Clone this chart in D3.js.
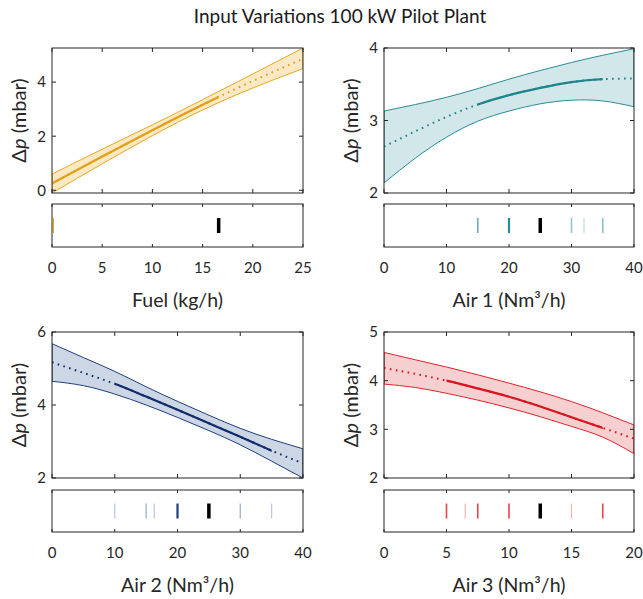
<!DOCTYPE html>
<html>
<head>
<meta charset="utf-8">
<script src="https://cdn.jsdelivr.net/npm/d3@7"></script>
<style>
  body { margin: 0; background: #fff; }
  svg { font-family: Lato, "Open Sans", sans-serif; }
</style>
</head>
<body>
<svg id="chart" width="643" height="599"></svg>
<script>
// data
const fuelX = [0, 5, 10, 15, 20, 25]
const fuelMean = [0.25, 1.25, 2.22, 3.16, 4.04, 4.86]
const fuelUpper = [0.60, 1.52, 2.42, 3.35, 4.30, 5.26]
const fuelLower = [-0.10, 0.98, 2.02, 2.97, 3.78, 4.50]
const fuelMeasured = [0]
const fuelShade = [0.9]
const fuelNominal = 16.6

const air1X = [0, 5, 10, 15, 20, 25, 30, 35, 40]
const air1Mean = [2.64, 2.85, 3.05, 3.22, 3.35, 3.45, 3.53, 3.57, 3.58]
const air1Upper = [3.13, 3.22, 3.32, 3.44, 3.57, 3.69, 3.80, 3.90, 3.99]
const air1Lower = [2.14, 2.48, 2.77, 2.99, 3.13, 3.23, 3.28, 3.27, 3.19]
const air1Measured = [15, 20, 30, 32, 35]
const air1Shade = [0.7, 1, 0.5, 0.3, 0.55]
const air1Nominal = 25

const air2X = [0, 5, 10, 15, 20, 25, 30, 35, 40]
const air2Mean = [5.17, 4.88, 4.58, 4.23, 3.87, 3.50, 3.13, 2.75, 2.40]
const air2Upper = [5.68, 5.30, 4.92, 4.50, 4.10, 3.72, 3.36, 3.06, 2.80]
const air2Lower = [4.65, 4.53, 4.30, 4.00, 3.66, 3.30, 2.91, 2.46, 2.00]
const air2Measured = [10, 15, 16.3, 20, 30, 35]
const air2Shade = [0.3, 0.45, 0.3, 1, 0.45, 0.3]
const air2Nominal = 25

const air3X = [0, 2.5, 5, 7.5, 10, 12.5, 15, 17.5, 20]
const air3Mean = [4.26, 4.14, 4.00, 3.84, 3.67, 3.47, 3.25, 3.03, 2.81]
const air3Upper = [4.58, 4.43, 4.28, 4.12, 3.95, 3.77, 3.57, 3.34, 3.09]
const air3Lower = [3.93, 3.86, 3.74, 3.60, 3.44, 3.26, 3.06, 2.84, 2.50]
const air3Measured = [5, 6.5, 7.5, 10, 15, 17.5]
const air3Shade = [0.85, 0.35, 0.85, 0.85, 0.35, 0.85]
const air3Nominal = 12.5

const panels = [
  {x: fuelX, mean: fuelMean, up: fuelUpper, lo: fuelLower, meas: fuelMeasured, shade: fuelShade, nom: fuelNominal,
   solid: [0, 16.6], xdom: [0, 25], xticks: [0, 5, 10, 15, 20, 25], ydom: [-0.1, 5.26], yticks: [0, 2, 4],
   line: "#e2a017", edge: "#e8a91c", fill: "#fbe8c4", tick: "#b8860b", xlabel: "Fuel (kg/h)",
   left: 52, right: 303, top: 48, bottom: 193, stripTop: 204, stripBottom: 247},
  {x: air1X, mean: air1Mean, up: air1Upper, lo: air1Lower, meas: air1Measured, shade: air1Shade, nom: air1Nominal,
   solid: [15, 35], xdom: [0, 40], xticks: [0, 10, 20, 30, 40], ydom: [2, 4], yticks: [2, 3, 4],
   line: "#1f848e", edge: "#2a8c96", fill: "#d2e7e9", tick: "#2a8c96", xlabel: "Air 1 (Nm³/h)",
   left: 384, right: 634, top: 48, bottom: 193, stripTop: 204, stripBottom: 247},
  {x: air2X, mean: air2Mean, up: air2Upper, lo: air2Lower, meas: air2Measured, shade: air2Shade, nom: air2Nominal,
   solid: [10, 35], xdom: [0, 40], xticks: [0, 10, 20, 30, 40], ydom: [2, 6], yticks: [2, 4, 6],
   line: "#0d2d6c", edge: "#1d3f7f", fill: "#cdd6e5", tick: "#1d3f7f", xlabel: "Air 2 (Nm³/h)",
   left: 52, right: 303, top: 332, bottom: 478, stripTop: 490, stripBottom: 532},
  {x: air3X, mean: air3Mean, up: air3Upper, lo: air3Lower, meas: air3Measured, shade: air3Shade, nom: air3Nominal,
   solid: [5, 17.5], xdom: [0, 20], xticks: [0, 5, 10, 15, 20], ydom: [2, 5], yticks: [2, 3, 4, 5],
   line: "#d9141c", edge: "#e0242c", fill: "#f6cfd1", tick: "#e0242c", xlabel: "Air 3 (Nm³/h)",
   left: 384, right: 634, top: 332, bottom: 478, stripTop: 490, stripBottom: 532}
]

const svg = d3.select("#chart")
const axisColor = "#262626"

svg.append("text")
  .attr("x", 340).attr("y", 23)
  .attr("text-anchor", "middle")
  .attr("font-size", 19)
  .attr("fill", "#1a1a1a")
  .text("Input Variations 100 kW Pilot Plant")

panels.forEach((p, i) => {
  const x = d3.scaleLinear().domain(p.xdom).range([p.left, p.right])
  const y = d3.scaleLinear().domain(p.ydom).range([p.bottom, p.top])
  const pts = p.x.map((v, k) => ({x: v, m: p.mean[k], u: p.up[k], l: p.lo[k]}))

  const g = svg.append("g")
  const clipAll = "clip" + i
  g.append("clipPath").attr("id", clipAll)
    .append("rect").attr("x", p.left).attr("y", p.top)
    .attr("width", p.right - p.left).attr("height", p.bottom - p.top)
  const clipSolid = "clipS" + i
  g.append("clipPath").attr("id", clipSolid)
    .append("rect").attr("x", x(p.solid[0])).attr("y", p.top)
    .attr("width", x(p.solid[1]) - x(p.solid[0])).attr("height", p.bottom - p.top)

  const area = d3.area().x(d => x(d.x)).y0(d => y(d.l)).y1(d => y(d.u)).curve(d3.curveNatural)
  const line = d3.line().x(d => x(d.x)).y(d => y(d.m)).curve(d3.curveNatural)
  const upLine = d3.line().x(d => x(d.x)).y(d => y(d.u)).curve(d3.curveNatural)
  const loLine = d3.line().x(d => x(d.x)).y(d => y(d.l)).curve(d3.curveNatural)

  const plot = g.append("g").attr("clip-path", `url(#${clipAll})`)
  plot.append("path").datum(pts).attr("d", area).attr("fill", p.fill).attr("stroke", "none")
  plot.append("path").datum(pts).attr("d", upLine).attr("fill", "none").attr("stroke", p.edge).attr("stroke-width", 1)
  plot.append("path").datum(pts).attr("d", loLine).attr("fill", "none").attr("stroke", p.edge).attr("stroke-width", 1)
  // band ends
  ;[pts[0], pts[pts.length - 1]].forEach(d => {
    plot.append("line").attr("x1", x(d.x)).attr("x2", x(d.x))
      .attr("y1", y(d.l)).attr("y2", y(d.u))
      .attr("stroke", p.edge).attr("stroke-width", 1.2)
  })
  // extrapolated part dotted, measured range solid
  plot.append("path").datum(pts).attr("d", line).attr("fill", "none")
    .attr("stroke", p.line).attr("stroke-width", 2)
    .attr("stroke-dasharray", "1.6,4.4")
  plot.append("path").datum(pts).attr("d", line).attr("fill", "none")
    .attr("stroke", p.line).attr("stroke-width", 2.2)
    .attr("clip-path", `url(#${clipSolid})`)

  // frame and ticks of the main plot
  g.append("rect").attr("x", p.left).attr("y", p.top)
    .attr("width", p.right - p.left).attr("height", p.bottom - p.top)
    .attr("fill", "none").attr("stroke", axisColor).attr("stroke-width", 1)

  const tl = 4
  p.xticks.forEach(t => {
    g.append("line").attr("x1", x(t)).attr("x2", x(t)).attr("y1", p.bottom).attr("y2", p.bottom - tl).attr("stroke", axisColor)
    g.append("line").attr("x1", x(t)).attr("x2", x(t)).attr("y1", p.top).attr("y2", p.top + tl).attr("stroke", axisColor)
  })
  p.yticks.forEach(t => {
    g.append("line").attr("x1", p.left).attr("x2", p.left + tl).attr("y1", y(t)).attr("y2", y(t)).attr("stroke", axisColor)
    g.append("line").attr("x1", p.right).attr("x2", p.right - tl).attr("y1", y(t)).attr("y2", y(t)).attr("stroke", axisColor)
    g.append("text").attr("x", p.left - 6).attr("y", y(t)).attr("dy", "0.36em")
      .attr("text-anchor", "end").attr("font-size", 15).attr("fill", axisColor).text(t)
  })

  // y label
  const yl = g.append("text")
    .attr("transform", `translate(${p.left - 26},${(p.top + p.bottom) / 2}) rotate(-90)`)
    .attr("text-anchor", "middle").attr("font-size", 20).attr("fill", axisColor)
  yl.append("tspan").text("Δ")
  yl.append("tspan").attr("font-style", "italic").text("p")
  yl.append("tspan").text(" (mbar)")

  // strip with measurement points
  const sMid = (p.stripTop + p.stripBottom) / 2
  g.append("rect").attr("x", p.left).attr("y", p.stripTop)
    .attr("width", p.right - p.left).attr("height", p.stripBottom - p.stripTop)
    .attr("fill", "none").attr("stroke", axisColor).attr("stroke-width", 1)
  p.xticks.forEach(t => {
    g.append("line").attr("x1", x(t)).attr("x2", x(t)).attr("y1", p.stripBottom).attr("y2", p.stripBottom - 3).attr("stroke", axisColor)
    g.append("line").attr("x1", x(t)).attr("x2", x(t)).attr("y1", p.stripTop).attr("y2", p.stripTop + 3).attr("stroke", axisColor)
    g.append("text").attr("x", x(t)).attr("y", p.stripBottom + 26)
      .attr("text-anchor", "middle").attr("font-size", 15).attr("fill", axisColor).text(t)
  })
  p.meas.forEach((v, k) => {
    const s = p.shade[k]
    g.append("line").attr("x1", x(v) + (v === p.xdom[0] ? 1 : 0)).attr("x2", x(v) + (v === p.xdom[0] ? 1 : 0))
      .attr("y1", sMid - 7.5).attr("y2", sMid + 7.5)
      .attr("stroke", p.tick).attr("stroke-opacity", s)
      .attr("stroke-width", s >= 0.95 ? 2.2 : (s >= 0.5 ? 1.6 : 1.2))
  })
  g.append("line").attr("x1", x(p.nom)).attr("x2", x(p.nom))
    .attr("y1", sMid - 7.5).attr("y2", sMid + 7.5)
    .attr("stroke", "#000").attr("stroke-width", 3.5)

  g.append("text").attr("x", (p.left + p.right) / 2).attr("y", p.stripBottom + 60)
    .attr("text-anchor", "middle").attr("font-size", 19.5).attr("fill", axisColor).text(p.xlabel)
})
</script>
</body>
</html>
